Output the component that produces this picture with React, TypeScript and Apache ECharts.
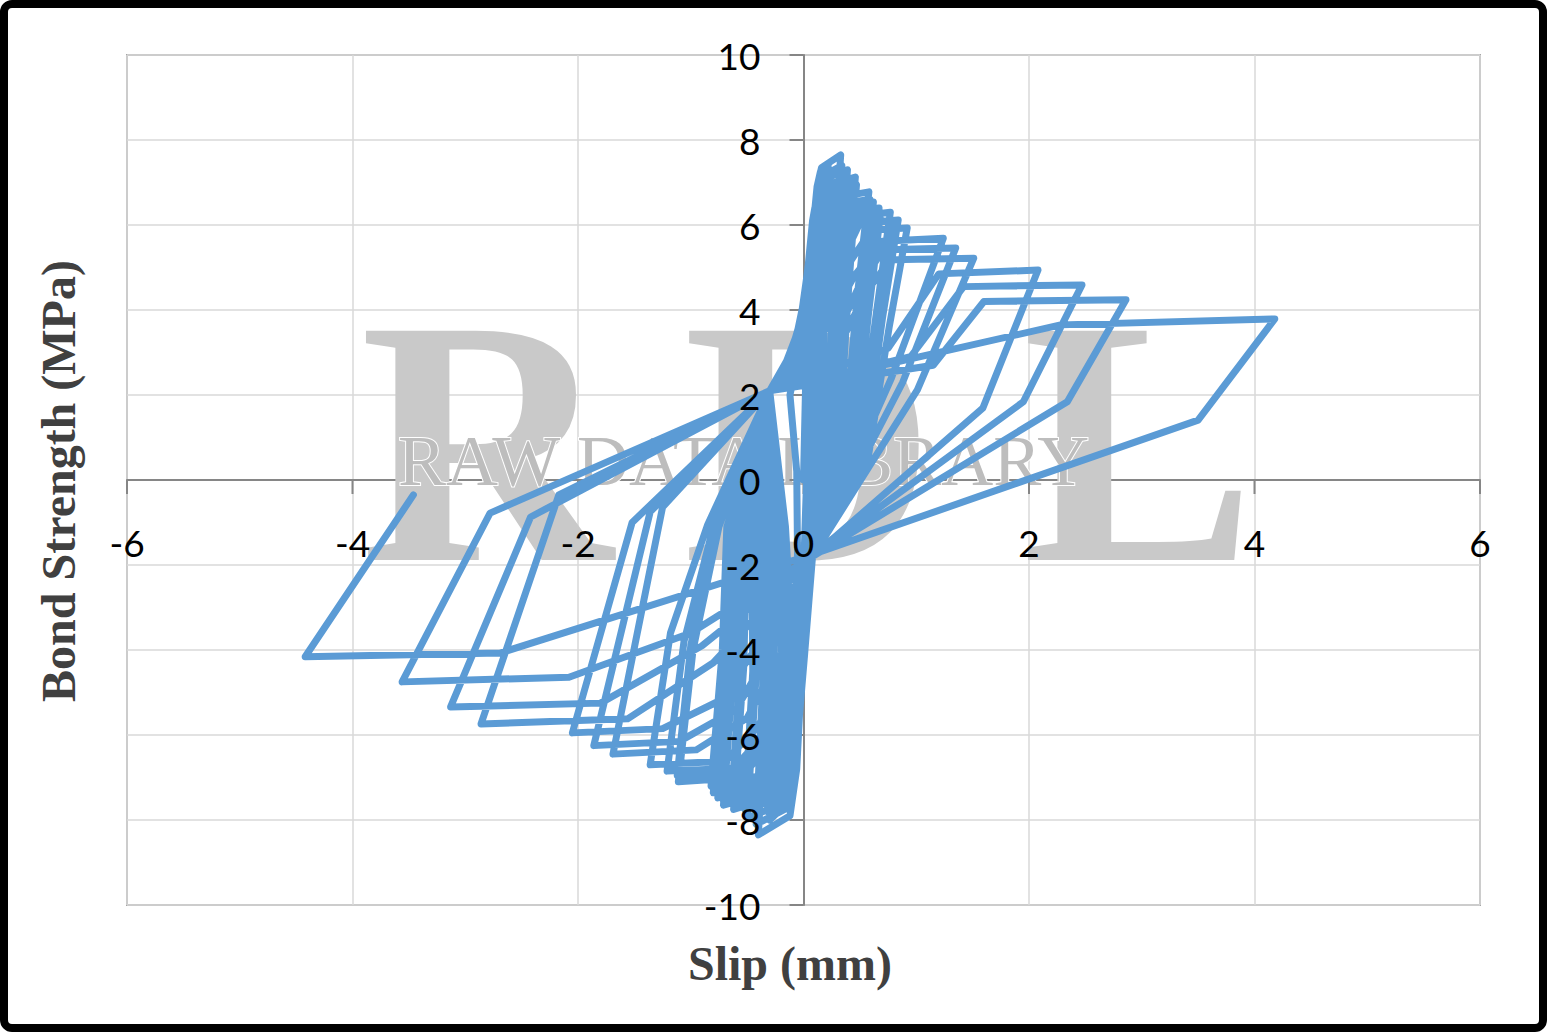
import React, { useEffect, useRef } from "react";
import * as echarts from "echarts";

// Slip (mm) / Bond strength (MPa) pairs, one array per loading cycle
const start = [[0, 0]];
const c01 = [[0.02, 2.4], [0.04, 4.2], [0.05, 4.6], [0.04, 2.6], [0.03, 0.2], [0.0, -2.2], [-0.04, -4.3], [-0.06, -4.8], [-0.05, -2.6], [-0.06, 0.2], [-0.12, 2.0]];
const c02 = [[-0.02, 3.3], [0.04, 5.0], [0.08, 6.1], [0.1, 6.4], [0.08, 4.0], [0.06, 0.3], [0.06, -1.8], [-0.01, -4.0], [-0.07, -6.2], [-0.12, -6.8], [-0.1, -3.8], [-0.16, -1.1], [-0.3, 2.1]];
const c02b = [[-0.06, 3.1], [0.03, 4.8], [0.08, 5.9], [0.1, 6.1], [0.09, 3.8], [0.08, 0.2], [0.08, -1.8], [0.0, -4.1], [-0.08, -6.1], [-0.13, -6.6], [-0.12, -3.6], [-0.2, -1.1], [-0.3, 2.1]];
const c03 = [[-0.08, 3.0], [0.02, 4.4], [0.08, 5.8], [0.12, 6.9], [0.15, 7.2], [0.12, 4.6], [0.1, 0.4], [0.08, -1.8], [0.0, -4.0], [-0.07, -6.2], [-0.14, -7.3], [-0.2, -7.6], [-0.16, -4.4], [-0.22, -1.1], [-0.3, 2.1]];
const c03b = [[-0.1, 2.9], [0.01, 4.3], [0.08, 5.7], [0.13, 6.8], [0.16, 7.0], [0.14, 4.5], [0.12, 0.3], [0.08, -1.8], [0.01, -4.1], [-0.06, -6.3], [-0.15, -7.2], [-0.22, -7.4], [-0.19, -4.3], [-0.25, -1.1], [-0.3, 2.1]];
const c04 = [[-0.12, 2.9], [0.0, 4.0], [0.07, 5.5], [0.12, 6.9], [0.15, 7.25], [0.22, 7.45], [0.17, 5.0], [0.14, 0.3], [0.08, -1.8], [-0.01, -4.1], [-0.07, -6.6], [-0.14, -7.6], [-0.3, -8.0], [-0.25, -4.6], [-0.3, -1.1], [-0.3, 2.1]];
const c04b = [[-0.13, 2.8], [0.0, 3.9], [0.08, 5.4], [0.13, 6.8], [0.16, 7.1], [0.23, 7.25], [0.19, 4.8], [0.16, 0.3], [0.08, -1.8], [-0.02, -4.0], [-0.08, -6.5], [-0.15, -7.5], [-0.32, -7.8], [-0.27, -4.5], [-0.32, -1.1], [-0.3, 2.1]];
const c05 = [[-0.14, 2.8], [-0.01, 3.8], [0.07, 5.3], [0.12, 6.9], [0.16, 7.35], [0.33, 7.65], [0.27, 5.2], [0.2, 0.3], [0.08, -1.8], [-0.01, -4.2], [-0.06, -6.8], [-0.12, -7.9], [-0.4, -8.35], [-0.33, -4.8], [-0.36, -1.1], [-0.3, 2.1]];
const c05b = [[-0.15, 2.8], [-0.02, 3.7], [0.07, 5.2], [0.13, 6.8], [0.17, 7.15], [0.34, 7.4], [0.28, 5.0], [0.22, 0.3], [0.08, -1.8], [-0.02, -4.2], [-0.07, -6.7], [-0.13, -7.7], [-0.42, -8.1], [-0.36, -4.7], [-0.38, -1.1], [-0.3, 2.1]];
const c06 = [[-0.14, 2.8], [0.0, 3.7], [0.09, 5.2], [0.15, 6.7], [0.2, 7.1], [0.39, 7.3], [0.32, 4.8], [0.24, 0.3], [0.08, -1.8], [-0.02, -4.1], [-0.09, -6.6], [-0.16, -7.6], [-0.5, -7.95], [-0.42, -4.6], [-0.43, -1.1], [-0.3, 2.1]];
const c06b = [[-0.13, 2.8], [0.01, 3.7], [0.1, 5.1], [0.16, 6.6], [0.21, 6.95], [0.4, 7.1], [0.33, 4.7], [0.26, 0.3], [0.08, -1.8], [-0.03, -4.1], [-0.1, -6.5], [-0.17, -7.45], [-0.52, -7.75], [-0.45, -4.5], [-0.46, -1.1], [-0.3, 2.1]];
const c07 = [[-0.12, 2.8], [0.02, 3.7], [0.12, 5.1], [0.18, 6.5], [0.24, 6.95], [0.46, 7.13], [0.38, 4.6], [0.28, 0.3], [0.08, -1.8], [-0.03, -4.0], [-0.12, -6.4], [-0.2, -7.4], [-0.62, -7.75], [-0.53, -4.4], [-0.5, -1.1], [-0.3, 2.1]];
const c07b = [[-0.11, 2.8], [0.03, 3.7], [0.13, 5.0], [0.2, 6.4], [0.26, 6.8], [0.47, 6.95], [0.4, 4.5], [0.3, 0.3], [0.08, -1.8], [-0.04, -4.0], [-0.13, -6.3], [-0.22, -7.3], [-0.64, -7.6], [-0.56, -4.3], [-0.53, -1.1], [-0.3, 2.1]];
const c08 = [[-0.1, 2.8], [0.04, 3.7], [0.15, 5.0], [0.22, 6.3], [0.3, 6.65], [0.58, 6.78], [0.48, 4.4], [0.34, 0.3], [0.08, -1.8], [-0.04, -4.0], [-0.15, -6.3], [-0.25, -7.3], [-0.71, -7.65], [-0.62, -4.3], [-0.56, -1.1], [-0.3, 2.1]];
const c08b = [[-0.09, 2.8], [0.05, 3.7], [0.16, 4.9], [0.24, 6.2], [0.32, 6.5], [0.59, 6.6], [0.5, 4.3], [0.36, 0.3], [0.08, -1.8], [-0.05, -3.95], [-0.16, -6.2], [-0.27, -7.2], [-0.72, -7.5], [-0.63, -4.2], [-0.58, -1.1], [-0.3, 2.1]];
const c09 = [[-0.08, 2.8], [0.06, 3.7], [0.18, 4.9], [0.26, 6.15], [0.35, 6.45], [0.62, 6.54], [0.52, 4.2], [0.38, 0.3], [0.08, -1.8], [-0.05, -3.95], [-0.18, -6.1], [-0.3, -7.2], [-0.76, -7.48], [-0.66, -4.2], [-0.6, -1.1], [-0.3, 2.1]];
const c10 = [[-0.06, 2.8], [0.08, 3.7], [0.2, 4.9], [0.3, 6.05], [0.4, 6.32], [0.67, 6.4], [0.56, 4.1], [0.41, 0.3], [0.08, -1.8], [-0.06, -3.9], [-0.22, -6.0], [-0.35, -7.1], [-0.8, -7.36], [-0.7, -4.1], [-0.65, -1.1], [-0.3, 2.1]];
const c10b = [[-0.05, 2.8], [0.09, 3.7], [0.22, 4.8], [0.32, 5.9], [0.42, 6.15], [0.68, 6.2], [0.58, 4.0], [0.43, 0.3], [0.08, -1.8], [-0.07, -3.85], [-0.24, -5.9], [-0.37, -6.95], [-0.82, -7.2], [-0.72, -4.0], [-0.68, -1.1], [-0.3, 2.1]];
const c11 = [[-0.04, 2.8], [0.1, 3.7], [0.28, 5.1], [0.45, 6.2], [0.77, 6.3], [0.65, 4.0], [0.46, 0.3], [0.08, -1.8], [-0.02, -4.0], [-0.3, -6.2], [-0.55, -7.0], [-1.11, -7.1], [-0.98, -4.0], [-0.75, -1.1], [-0.3, 2.1]];
const c11b = [[-0.03, 2.8], [0.11, 3.7], [0.3, 5.0], [0.46, 6.02], [0.78, 6.1], [0.66, 3.9], [0.48, 0.3], [0.08, -1.8], [-0.03, -3.95], [-0.32, -6.05], [-0.57, -6.88], [-1.12, -6.95], [-1.0, -3.9], [-0.78, -1.1], [-0.3, 2.1]];
const c12 = [[-0.02, 2.8], [0.13, 3.7], [0.33, 5.1], [0.5, 6.05], [0.84, 6.12], [0.7, 3.8], [0.52, 0.3], [0.08, -1.8], [-0.05, -3.9], [-0.35, -6.0], [-0.62, -6.78], [-1.21, -6.85], [-1.06, -3.8], [-0.8, -1.1], [-0.3, 2.1]];
const c13 = [[0.0, 2.8], [0.16, 3.7], [0.38, 5.0], [0.6, 5.88], [0.92, 5.93], [0.76, 3.6], [0.56, 0.3], [0.08, -1.8], [-0.08, -3.8], [-0.4, -5.8], [-0.7, -6.62], [-1.36, -6.7], [-1.18, -3.6], [-0.85, -1.05], [-0.3, 2.1]];
const c14 = [[0.05, 2.8], [0.2, 3.6], [0.45, 4.8], [0.7, 5.62], [1.24, 5.69], [0.78, 2.4], [0.08, -1.8], [-0.12, -3.7], [-0.5, -5.6], [-0.95, -6.35], [-1.69, -6.45], [-1.25, -0.64], [-0.3, 2.1]];
const c15 = [[0.2, 2.9], [0.5, 4.6], [0.71, 5.42], [1.35, 5.46], [0.88, 2.3], [0.08, -1.8], [-0.2, -3.6], [-0.6, -5.4], [-1.1, -6.15], [-1.86, -6.25], [-1.36, -0.75], [-0.3, 2.1]];
const c16 = [[0.25, 2.8], [0.55, 4.4], [0.77, 5.18], [1.51, 5.22], [1.01, 2.12], [0.08, -1.8], [-0.3, -3.5], [-0.75, -5.2], [-1.25, -5.85], [-2.05, -5.95], [-1.52, -1.0], [-0.3, 2.1]];
const c17 = [[0.75, 3.1], [1.2, 4.85], [2.08, 4.94], [1.59, 1.69], [0.08, -1.8], [-0.8, -4.3], [-1.56, -5.62], [-2.86, -5.74], [-2.17, -0.35], [-0.3, 2.1]];
const c18 = [[0.95, 2.9], [1.42, 4.55], [2.47, 4.59], [1.95, 1.84], [0.08, -1.8], [-0.9, -3.9], [-1.8, -5.25], [-3.13, -5.34], [-2.42, -0.87], [-0.3, 2.1]];
const c19 = [[1.15, 2.7], [1.6, 4.2], [2.86, 4.24], [2.34, 1.84], [0.08, -1.8], [-1.0, -3.6], [-2.08, -4.64], [-3.56, -4.75], [-2.78, -0.78], [-0.3, 2.1]];
const c20 = [[2.28, 3.65], [4.18, 3.79], [3.5, 1.41], [0.08, -1.75], [-2.69, -4.07], [-4.42, -4.16], [-3.46, -0.35]];

const xTickValues = [-6, -4, -2, 0, 2, 4, 6];
const yTickValues = [-10, -8, -6, -4, -2, 0, 2, 4, 6, 8, 10];
const xTitle = "Slip (mm)";
const yTitle = "Bond Strength (MPa)";
const watermarkLetters = ["R", "D", "L"];
const watermarkText = "RAW DATA LIBRARY";

export default function App() {
  const ref = useRef<HTMLDivElement>(null);
  useEffect(() => {
    if (!ref.current) return;
    const chart = echarts.init(ref.current, undefined, { renderer: "svg" });
    const path = [
      ...start, ...c01, ...c02, ...c02b, ...c03, ...c03b, ...c04, ...c04b,
      ...c05, ...c05b, ...c06, ...c06b, ...c07, ...c07b, ...c08, ...c08b,
      ...c09, ...c10, ...c10b, ...c11, ...c11b, ...c12, ...c13, ...c14,
      ...c15, ...c16, ...c17, ...c18, ...c19, ...c20,
    ];
    const axisGrey = "#868686";
    chart.setOption({
      animation: false,
      backgroundColor: "#fff",
      grid: {
        left: 127, right: 67, top: 55, bottom: 127,
        show: true, borderColor: "#a6a6a6", borderWidth: 2,
      },
      xAxis: {
        type: "value", min: xTickValues[0], max: xTickValues[xTickValues.length - 1], interval: 2,
        axisLine: { onZero: true, lineStyle: { color: axisGrey, width: 2 } },
        axisTick: { show: false },
        axisLabel: { show: false },
        splitLine: { show: true, lineStyle: { color: "#d9d9d9", width: 1.5 } },
      },
      yAxis: {
        type: "value", min: yTickValues[0], max: yTickValues[yTickValues.length - 1], interval: 2,
        axisLine: { onZero: true, lineStyle: { color: axisGrey, width: 2 } },
        axisTick: { show: false },
        axisLabel: { show: false },
        splitLine: { show: true, lineStyle: { color: "#d9d9d9", width: 1.5 } },
      },
      series: [
        {
          type: "line",
          data: path,
          showSymbol: false,
          smooth: false,
          z: 5,
          lineStyle: { color: "#5b9bd5", width: 7, join: "round", cap: "round" },
          itemStyle: { color: "#5b9bd5" },
        },
      ],
    });

    const graphics: any[] = [];
    const wmX = [360, 683, 1022];
    watermarkLetters.forEach((ch, i) => {
      graphics.push({
        type: "text", x: wmX[i], y: 442, z: 1, silent: true,
        style: { text: ch, font: 'bold 350px "Liberation Serif"', fill: "#c9c9c9", textAlign: "left", textVerticalAlign: "middle" },
      });
    });
    graphics.push({
      type: "text", x: 398, y: 461, z: 1, silent: true,
      style: { text: watermarkText, font: '72px "Liberation Serif"', fill: "#bdbdbd", stroke: "#fff", lineWidth: 2, textAlign: "left", textVerticalAlign: "middle" },
    });

    // tick marks and tick labels, placed through the chart's own scales
    const origin = chart.convertToPixel({ gridIndex: 0 }, [0, 0]) as number[];
    xTickValues.forEach((v) => {
      const p = chart.convertToPixel({ gridIndex: 0 }, [v, 0]) as number[];
      graphics.push({
        type: "line", z: 3, silent: true,
        shape: { x1: p[0], y1: origin[1], x2: p[0], y2: origin[1] + 14 },
        style: { stroke: axisGrey, lineWidth: 2 },
      });
      graphics.push({
        type: "text", x: p[0], y: origin[1] + 62, z: 10,
        style: { text: String(v), font: '37px Lato', fill: "#000", textAlign: "center", textVerticalAlign: "middle" },
      });
    });
    yTickValues.forEach((v) => {
      const p = chart.convertToPixel({ gridIndex: 0 }, [0, v]) as number[];
      graphics.push({
        type: "line", z: 3, silent: true,
        shape: { x1: origin[0] - 14, y1: p[1], x2: origin[0], y2: p[1] },
        style: { stroke: axisGrey, lineWidth: 2 },
      });
      graphics.push({
        type: "text", x: origin[0] - 43, y: p[1], z: 10,
        style: { text: String(v), font: '37px Lato', fill: "#000", textAlign: "right", textVerticalAlign: "middle" },
      });
    });

    graphics.push({
      type: "text", x: 790, y: 963, z: 10,
      style: { text: xTitle, font: 'bold 48px "Liberation Serif"', fill: "#404040", textAlign: "center", textVerticalAlign: "middle" },
    });
    graphics.push({
      type: "text", x: 58, y: 481, z: 10, rotation: Math.PI / 2,
      style: { text: yTitle, font: 'bold 48px "Liberation Serif"', fill: "#404040", textAlign: "center", textVerticalAlign: "middle" },
    });
    graphics.push({
      type: "rect", z: 100, silent: true,
      shape: { x: 4, y: 4, width: 1539, height: 1024, r: 8 },
      style: { fill: "none", stroke: "#000", lineWidth: 8 },
    });
    chart.setOption({ graphic: graphics });
    return () => chart.dispose();
  }, []);
  return (
    <div
      ref={ref}
      style={{ position: "absolute", left: 0, top: 0, width: 1547, height: 1032 }}
    />
  );
}
